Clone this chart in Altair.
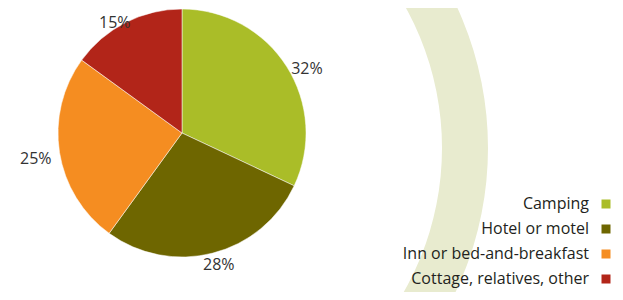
import altair as alt
import pandas as pd

categories = ["Camping", "Hotel or motel", "Inn or bed-and-breakfast", "Cottage, relatives, other"]
shares = [32, 28, 25, 15]
labels = ["32%", "28%", "25%", "15%"]
colors = ["#AABD28", "#6E6600", "#F58D21", "#B22519"]

df = pd.DataFrame({
    "category": categories,
    "share": shares,
    "label": labels,
    "order": list(range(len(categories))),
})

W, H = 607, 284
color_scale = alt.Scale(domain=categories, range=colors)
cx, cy = 174, 125
R = 124

base = alt.Chart(df)

band = alt.Chart(pd.DataFrame({"k": [0]})).mark_arc(
    theta=0, theta2=3.1416, radius=336, radius2=290, color="#E8EBCF"
).encode(x=alt.value(144), y=alt.value(140))

pie = base.mark_arc(radius=R, stroke="white", strokeWidth=0.5).encode(
    theta=alt.Theta("share:Q", stack=True),
    color=alt.Color("category:N", scale=color_scale, legend=None),
    order=alt.Order("order:Q"),
    x=alt.value(cx), y=alt.value(cy),
)

# label positions derived from the data: outside end of each slice
pct = base.transform_window(
    cum="sum(share)", sort=[alt.SortField("order")], frame=[None, 0]
).transform_joinaggregate(
    total="sum(share)"
).transform_calculate(
    mid="(datum.cum - datum.share / 2) / datum.total * 2 * PI",
    lx=f"{cx} + {R + 2} * sin(datum.mid) + 22 * sin(datum.mid)",
    ly=f"{cy} - {R + 2} * cos(datum.mid) - 4 * cos(datum.mid) + 6",
).mark_text(font="Open Sans", fontSize=16, color="#333333", baseline="middle").encode(
    x=alt.X("lx:Q", scale=alt.Scale(domain=[0, W], range=[0, W]), axis=None),
    y=alt.Y("ly:Q", scale=alt.Scale(domain=[0, H], range=[0, H]), axis=None),
    text="label:N",
)

leg_y = alt.Y("category:N", sort=categories, axis=None,
              scale=alt.Scale(type="point", domain=categories, range=[196, 271], padding=0))

leg_sq = base.mark_square(size=81, opacity=1).encode(
    y=leg_y,
    x=alt.value(598),
    color=alt.Color("category:N", scale=color_scale, legend=None),
)

leg_txt = base.mark_text(align="right", baseline="middle", font="Open Sans", fontSize=16,
                         color="#231F20").encode(
    y=leg_y,
    x=alt.value(581),
    text="category:N",
)

legend = alt.layer(leg_sq, leg_txt)

chart = alt.layer(band, pie, pct, legend).resolve_scale(
    theta="independent", y="independent", x="independent"
).properties(
    width=W, height=H, padding=0, autosize="none"
).configure_view(stroke=None)

chart.save("out.html", embed_options={"renderer": "svg", "actions": False})
